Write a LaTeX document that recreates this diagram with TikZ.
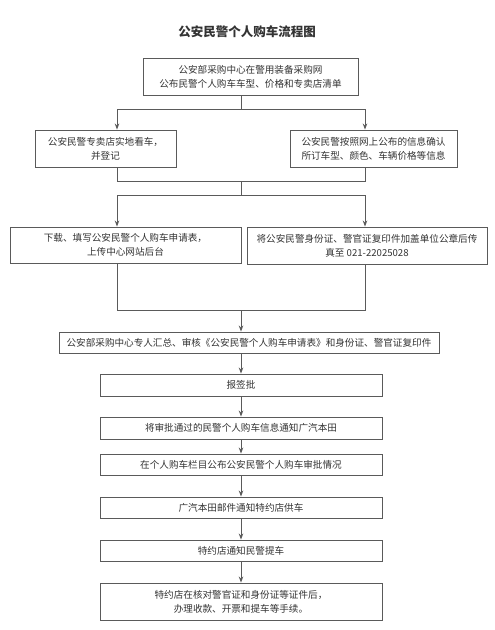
\documentclass[tikz,border=0pt]{standalone}
\usepackage{fontspec}
\setmainfont{Noto Sans CJK SC}
\usetikzlibrary{arrows.meta}
\definecolor{ln}{HTML}{5A5A5A}
\definecolor{tx}{HTML}{333333}
\tikzset{
  box/.style={draw=ln, line width=0.9pt, rectangle, inner sep=0pt, align=center,
    text=tx, font=\fontsize{9.6}{14}\selectfont},
  conn/.style={draw=ln, line width=0.9pt},
  arr/.style={conn, -{Stealth[length=6pt,width=4.5pt]}}
}
\begin{document}
\begin{tikzpicture}[x=1pt,y=-1pt]
\useasboundingbox[fill=white] (0,0) rectangle (495,630);
\node[text=tx, font=\fontsize{12.5}{14}\selectfont\bfseries] (title) at (247,32) {公安民警个人购车流程图};

\node[box, minimum width=215pt, minimum height=37pt] (b1) at (250.5,76.5)
  {公安部采购中心在警用装备采购网\\公布民警个人购车车型、价格和专卖店清单};
\node[box, minimum width=141pt, minimum height=37pt] (b2) at (105.5,148.5)
  {公安民警专卖店实地看车，\\并登记};
\node[box, minimum width=167pt, minimum height=37pt] (b3) at (373.5,148.5)
  {公安民警按照网上公布的信息确认\\所订车型、颜色、车辆价格等信息};
\node[box, minimum width=231pt, minimum height=36pt] (b4) at (125.5,245)
  {下载、填写公安民警个人购车申请表，\\上传中心网站后台};
\node[box, minimum width=240pt, minimum height=37pt] (b5) at (367,245.5)
  {将公安民警身份证、警官证复印件加盖单位公章后传\\真至 021-22025028};
\node[box, minimum width=380pt, minimum height=21pt] (b6) at (249,342.5)
  {公安部采购中心专人汇总、审核《公安民警个人购车申请表》和身份证、警官证复印件};
\node[box, minimum width=282pt, minimum height=22pt] (b7) at (241,385) {报签批};
\node[box, minimum width=282pt, minimum height=22pt] (b8) at (241,428) {将审批通过的民警个人购车信息通知广汽本田};
\node[box, minimum width=282pt, minimum height=21pt] (b9) at (241,464.5) {在个人购车栏目公布公安民警个人购车审批情况};
\node[box, minimum width=282pt, minimum height=21pt] (b10) at (241,507.5) {广汽本田邮件通知特约店供车};
\node[box, minimum width=282pt, minimum height=21pt] (b11) at (241,550.5) {特约店通知民警提车};
\node[box, minimum width=282pt, minimum height=37pt] (b12) at (241,601.5)
  {特约店在核对警官证和身份证等证件后，\\办理收款、开票和提车等手续。};

\coordinate (j1) at (241,109);
\coordinate (j1l) at (117,109);
\coordinate (j1r) at (365,109);
\coordinate (j2l) at (117,181);
\coordinate (j2r) at (365,181);
\coordinate (j2c) at (241,181);
\coordinate (j3c) at (241,195);
\coordinate (j3l) at (117,195);
\coordinate (j3r) at (365,195);
\coordinate (j4l) at (117,310);
\coordinate (j4r) at (365,310);
\coordinate (j4c) at (241,310);

\draw[conn] (b1.south -| j1) -- (j1);
\draw[conn] (j1l) -- (j1r);
\draw[arr] (j1l) -- (b2.north -| j1l);
\draw[arr] (j1r) -- (b3.north -| j1r);
\draw[conn] (b2.south -| j2l) -- (j2l) -- (j2r) -- (b3.south -| j2r);
\draw[conn] (j2c) -- (j3c);
\draw[conn] (j3l) -- (j3r);
\draw[arr] (j3l) -- (b4.north -| j3l);
\draw[arr] (j3r) -- (b5.north -| j3r);
\draw[conn] (b4.south -| j4l) -- (j4l) -- (j4r) -- (b5.south -| j4r);
\draw[arr] (j4c) -- (b6.north -| j4c);
\draw[arr] (b6.south -| b7.north) -- (b7.north);
\draw[arr] (b7) -- (b8);
\draw[arr] (b8) -- (b9);
\draw[arr] (b9) -- (b10);
\draw[arr] (b10) -- (b11);
\draw[arr] (b11) -- (b12);
\end{tikzpicture}
\end{document}
